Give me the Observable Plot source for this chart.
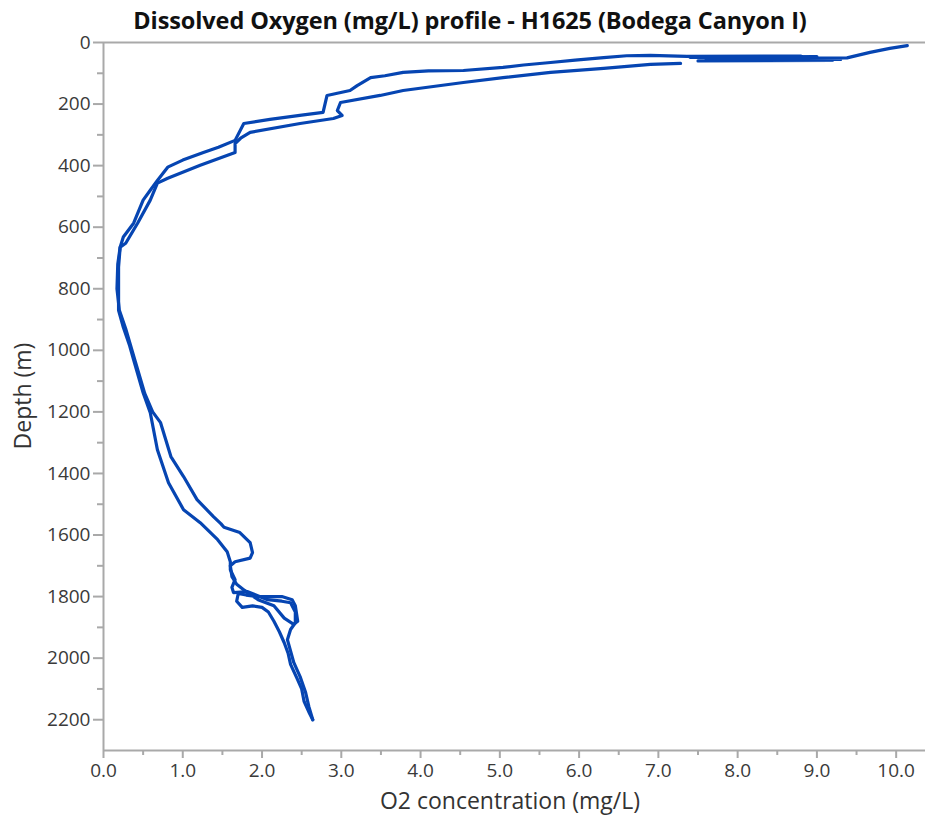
<!DOCTYPE html>
<html><head><meta charset="utf-8">
<script src="https://cdn.jsdelivr.net/npm/d3@7"></script>
<script src="https://cdn.jsdelivr.net/npm/@observablehq/plot@0.6"></script>
<style>
body{margin:0;background:#fff;}
#wrap{position:relative;width:925px;height:820px;overflow:hidden;}
#title{position:absolute;left:0;top:4px;width:940px;text-align:center;font:bold 23.5px 'Open Sans',sans-serif;color:#111;letter-spacing:-0.1px;}
#xlab{position:absolute;left:0;top:784px;width:1020px;text-align:center;font:23px 'Open Sans',sans-serif;color:#333;}
#ylab{position:absolute;left:22px;top:396px;transform:translate(-50%,-50%) rotate(-90deg);font:23px 'Open Sans',sans-serif;color:#333;white-space:nowrap;}
#chart{position:absolute;left:0;top:0;}
</style>
</head><body>
<div id="wrap">
<div id="chart"></div>
<div id="title">Dissolved Oxygen (mg/L) profile - H1625 (Bodega Canyon I)</div>
<div id="xlab">O2 concentration (mg/L)</div>
<div id="ylab">Depth (m)</div>
</div>
<script>
// Descent cast (O2 mg/L, depth m)
const descentO2 = [10.14,9.92,9.67,9.38,8.2,9.3,7.6,9.2,7.5,9.0,7.4,8.8,7.36,6.9,6.6,6.31,5.95,5.64,5.3,5.04,4.54,4.1,3.78,3.55,3.37,3.2,3.11,2.95,2.82,2.77,2.5,2.1,1.77,1.66,1.45,1.26,1.0,0.81,0.68,0.59,0.50,0.38,0.25,0.21,0.19,0.19,0.19,0.25,0.33,0.38,0.50,0.59,0.68,0.82,1.01,1.22,1.44,1.56,1.60,1.60,1.66,1.62,1.64,1.82,2.07,2.25,2.36,2.42,2.42,2.36,2.32,2.40,2.48,2.55,2.59,2.64];
const descentDepth = [10,19,32,50,52,55,56,58,60,46,48,44,45,42,43,49,57,65,73,81,91,92,97,108,114,140,156,165,172,227,236,250,263,318,340,357,382,405,448,480,512,587,632,665,730,804,870,925,985,1031,1138,1203,1323,1430,1518,1560,1615,1654,1687,1713,1745,1770,1787,1784,1810,1815,1820,1850,1885,1907,1940,2014,2060,2112,2157,2200];
// Ascent cast (O2 mg/L, depth m)
const ascentO2 = [2.64,2.60,2.53,2.50,2.44,2.36,2.33,2.28,2.22,2.15,2.08,2.00,1.88,1.75,1.68,1.70,1.80,1.95,2.10,2.25,2.38,2.42,2.45,2.40,2.28,2.15,1.95,1.78,1.68,1.62,1.60,1.66,1.85,1.88,1.85,1.72,1.52,1.48,1.39,1.18,1.01,0.85,0.72,0.62,0.52,0.40,0.28,0.20,0.17,0.18,0.21,0.28,0.43,0.59,0.68,0.81,1.22,1.66,1.66,1.73,1.85,2.48,2.90,3.01,2.95,2.99,3.49,3.78,4.54,5.04,5.64,6.31,6.90,7.28];
const ascentDepth = [2200,2180,2140,2100,2065,2020,1985,1950,1915,1880,1850,1835,1830,1835,1815,1790,1795,1800,1800,1800,1810,1830,1880,1890,1870,1830,1810,1780,1760,1735,1700,1687,1675,1657,1625,1592,1575,1563,1541,1485,1410,1345,1235,1200,1140,1035,930,870,800,720,665,652,587,512,457,441,399,357,328,311,292,263,247,237,221,195,172,156,130,114,97,84,71,68];
const xMajorTicks = [0,1,2,3,4,5,6,7,8,9,10];
const xMinorTicks = [0.5,1.5,2.5,3.5,4.5,5.5,6.5,7.5,8.5,9.5];
const yMajorTicks = [0,200,400,600,800,1000,1200,1400,1600,1800,2000,2200];
const yMinorTicks = [100,300,500,700,900,1100,1300,1500,1700,1900,2100];
const xMax = 10.37, yMax = 2300;

const descent = descentO2.map((v,i)=>({o2:v, depth:descentDepth[i]}));
const ascent = ascentO2.map((v,i)=>({o2:v, depth:ascentDepth[i]}));
const gray = "#a9a9a9";
const blue = "#0645b2";

const chart = Plot.plot({
  width: 925, height: 820,
  marginTop: 42, marginLeft: 103, marginRight: 0, marginBottom: 70,
  x: {domain: [0, xMax]},
  y: {domain: [0, yMax], reverse: true},
  style: {fontFamily: "'Open Sans', sans-serif", fontSize: "19px", color: "#3a3a3a", background: "transparent", overflow: "visible"},
  marks: [
    Plot.ruleY([0], {stroke: gray, strokeWidth: 2}),
    Plot.ruleY([yMax], {stroke: gray, strokeWidth: 2}),
    Plot.ruleX([0], {stroke: gray, strokeWidth: 2}),
    Plot.axisX({ticks: xMajorTicks, tickSize: 8, tickPadding: 5, tickFormat: d3.format(".1f"), stroke: gray, strokeWidth: 2, label: null}),
    Plot.axisX({ticks: xMinorTicks, tickSize: 5, tickFormat: () => "", stroke: gray, strokeWidth: 2, label: null}),
    Plot.axisY({ticks: yMajorTicks, tickSize: 10, tickPadding: 3, tickFormat: d => String(d), stroke: gray, strokeWidth: 2, label: null}),
    Plot.axisY({ticks: yMinorTicks, tickSize: 6, tickFormat: () => "", stroke: gray, strokeWidth: 2, label: null}),
    Plot.line(descent, {x: "o2", y: "depth", stroke: blue, strokeWidth: 3.2, strokeLinejoin: "round"}),
    Plot.line(ascent, {x: "o2", y: "depth", stroke: blue, strokeWidth: 3.2, strokeLinejoin: "round"})
  ]
});
document.getElementById("chart").appendChild(chart);
</script>
</body></html>
